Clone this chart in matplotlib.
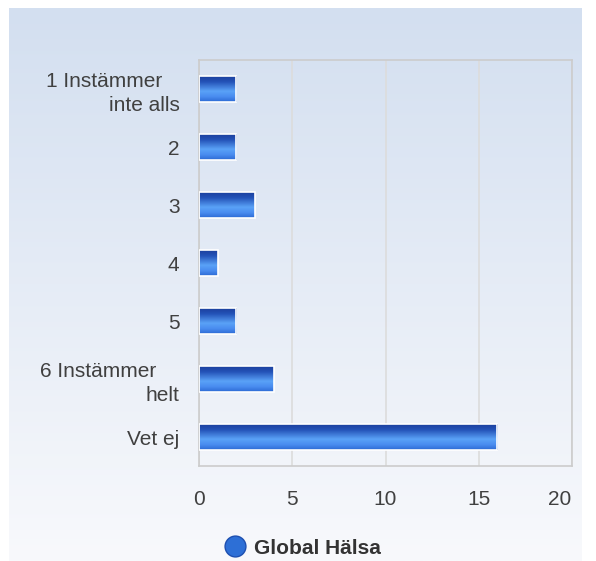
import numpy as np
import matplotlib
matplotlib.use('Agg')
import matplotlib.pyplot as plt
import matplotlib.transforms as mtransforms
from matplotlib.colors import LinearSegmentedColormap
from matplotlib.lines import Line2D

plt.rcParams['font.family'] = ['Liberation Sans', 'DejaVu Sans']

nb = '\u00a0'
categories = ['1 Instämmer' + nb * 3 + '\ninte alls', '2', '3', '4', '5',
              '6 Instämmer' + nb * 4 + '\nhelt', 'Vet ej']
values = [2, 2, 3, 1, 2, 4, 16]
series_name = 'Global Hälsa'
xticks = [0, 5, 10, 15, 20]

fig = plt.figure(figsize=(5.96, 5.61), dpi=100)

# background panel with vertical gradient
bg = fig.add_axes([9/596, 0, 573/596, 1 - 8/561], zorder=-1)
bg_cmap = LinearSegmentedColormap.from_list('bg', ['#d3dff0', '#f8f9fc'])
bg.imshow(np.linspace(0, 1, 256).reshape(-1, 1), cmap=bg_cmap, aspect='auto',
          extent=[0, 1, 0, 1])
bg.axis('off')

ax = fig.add_axes([199/596, 1 - 466/561, 373/596, 406/561])
ax.patch.set_alpha(0)

bar_cmap = LinearSegmentedColormap.from_list(
    'bar', [(0, '#1a3c98'), (0.25, '#2453b8'), (0.6, '#5aa2f7'), (0.8, '#4a8df0'), (1, '#2c6ad4')])
grad = np.linspace(0, 1, 100).reshape(-1, 1)

y = np.arange(len(categories))
bars = ax.barh(y, values, height=0.46, color='none', edgecolor='white', linewidth=1.2, zorder=3)
for b in bars:
    x0, y0 = b.get_x(), b.get_y()
    w, h = b.get_width(), b.get_height()
    # y axis is inverted, so the top of the bar is y0
    im = ax.imshow(grad, cmap=bar_cmap, aspect='auto', extent=[x0, x0 + w, y0 + h, y0],
                   origin='upper', zorder=2)
    im.set_clip_path(b)

ax.set_xlim(0, 20)
ax.set_ylim(len(categories) - 0.5, -0.5)
ax.set_xticks(xticks)
ax.set_yticks(y)
ax.set_yticklabels(categories, ha='right', multialignment='right', linespacing=1.35)
ax.tick_params(axis='both', length=0, labelsize=15, colors='#404040')
ax.tick_params(axis='y', pad=14)
ax.tick_params(axis='x', pad=17)
last = ax.get_xticklabels()[-1]
last.set_transform(last.get_transform() + mtransforms.ScaledTranslation(-12/100, 0, fig.dpi_scale_trans))
ax.grid(axis='x', color='#dcdcdc', linewidth=1.2, zorder=0)
ax.set_axisbelow(True)
for s in ax.spines.values():
    s.set_color('#cccccc')
    s.set_linewidth(1.2)

handle = Line2D([], [], marker='o', linestyle='none', markersize=15,
                markerfacecolor='#2d6fd6', markeredgecolor='#1d4fb0')
fig.legend([handle], [series_name], loc='center', bbox_to_anchor=(303/596, 1 - 548/561),
           frameon=False, prop={'weight': 'bold', 'size': 15}, handlelength=1.0,
           handletextpad=0.4, labelcolor='#333333')

fig.savefig('out.png', dpi=100)
